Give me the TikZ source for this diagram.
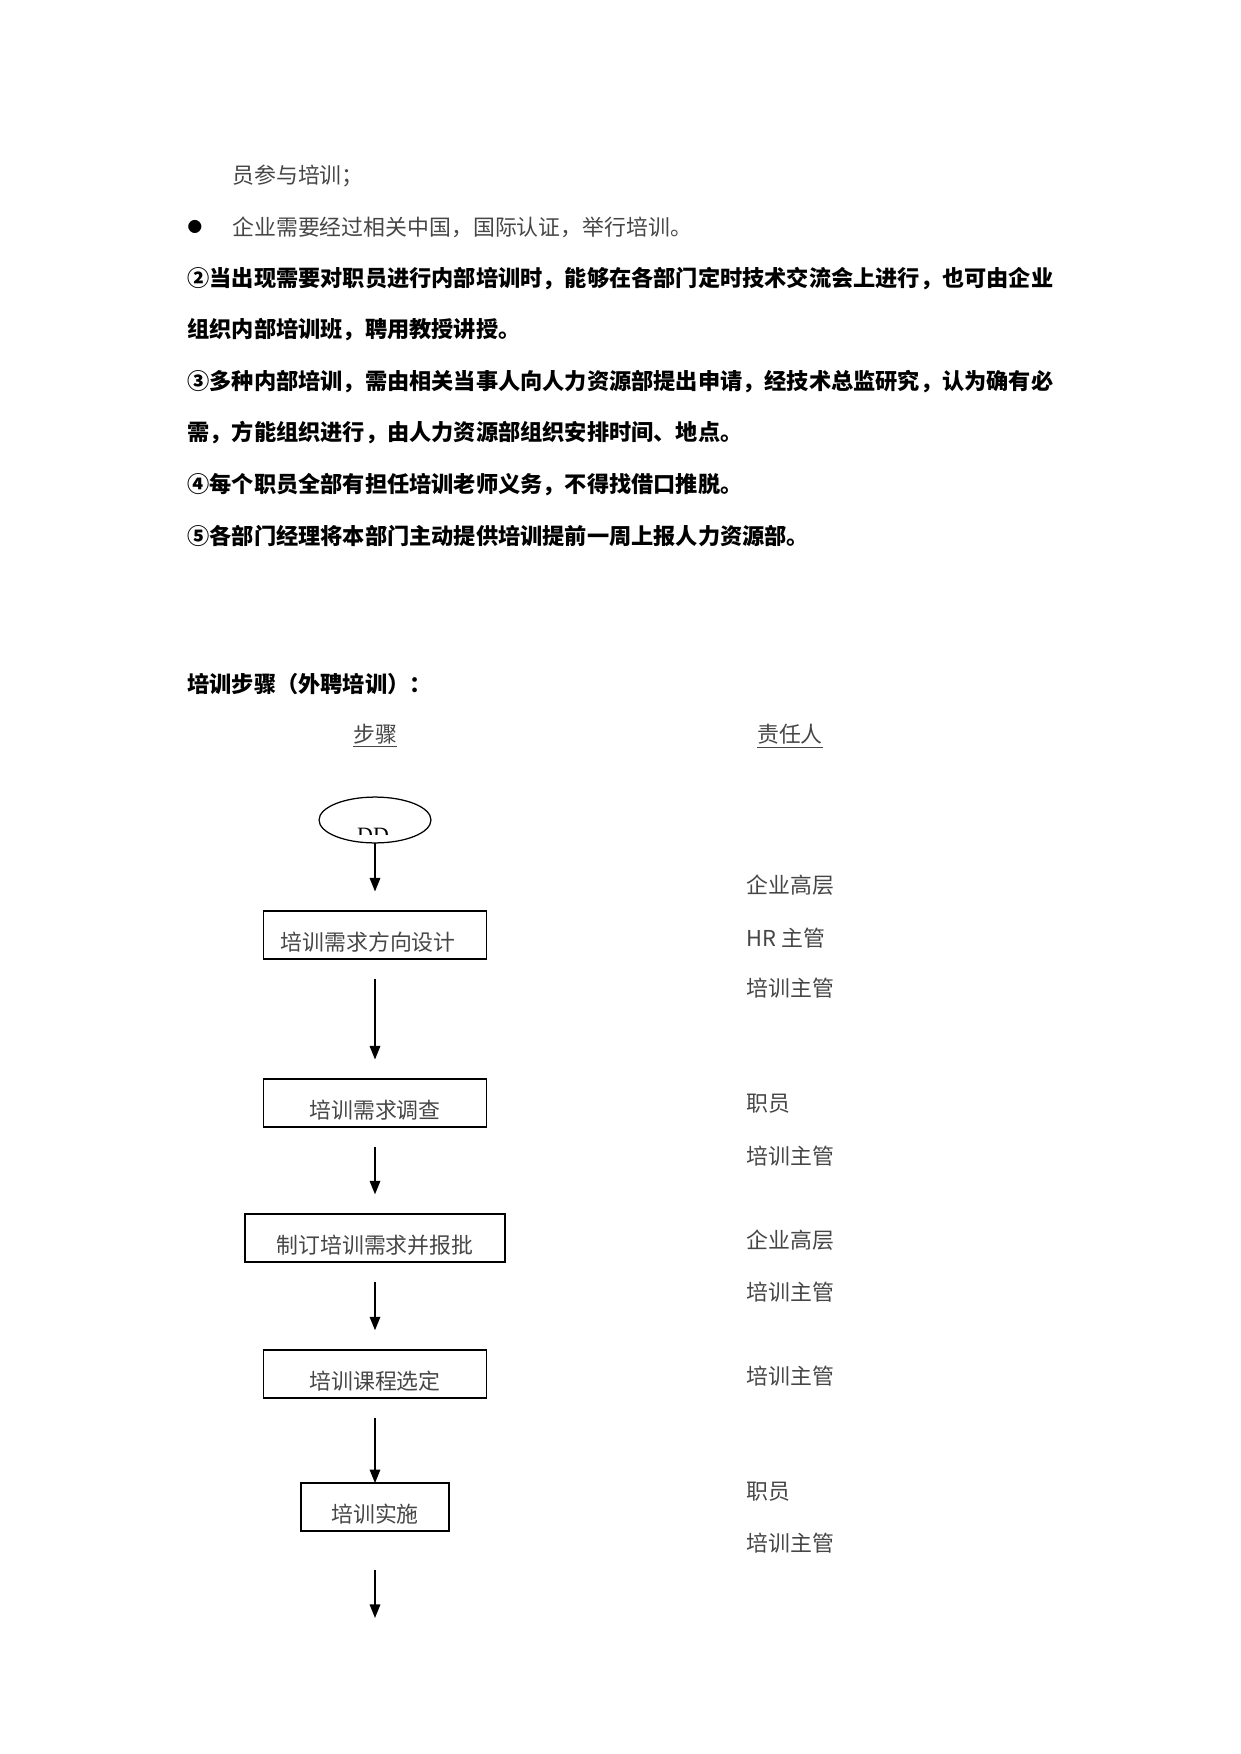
\documentclass[tikz,border=0pt]{standalone}
\usepackage{fontspec}
\setmainfont{Noto Sans CJK SC}
\newfontfamily\seriffont{Liberation Serif}
\usepackage{tikz}
\usetikzlibrary{positioning, shapes.geometric, arrows.meta}
\definecolor{textgray}{RGB}{70,70,70}

\begin{document}
\begin{tikzpicture}[x=0.4797pt, y=-0.4797pt, node distance=42pt,
    txt/.style={anchor=west, inner sep=0pt, font=\fontsize{10.5pt}{12pt}\selectfont, text=textgray},
    boldtxt/.style={anchor=west, inner sep=0pt, font=\fontsize{10.65pt}{12pt}\selectfont\bfseries},
    stepbox/.style={draw, line width=0.9pt, outer sep=0pt, minimum height=23pt, inner xsep=0pt, inner ysep=4pt,
                text height=15pt, text depth=0pt, font=\fontsize{10.5pt}{12pt}\selectfont, text=textgray},
    startbox/.style={ellipse, draw, line width=0.6pt, outer sep=0pt, minimum width=53.7pt, minimum height=22pt, inner sep=0pt},
    arr/.style={-{Triangle[width=5pt,length=6.5pt]}, line width=0.9pt, shorten <=9.5pt, shorten >=9.5pt}]
  \useasboundingbox (0,0) rectangle (1241,1754);

  % text above the chart
  \node[txt] (cont) at (232,176) {员参与培训；};
  \node[inner sep=0pt, font=\fontsize{7pt}{8pt}\selectfont] (dot) at (195,227) {●};
  \node[txt] (cert) at (232,227) {企业需要经过相关中国，国际认证，举行培训。};
  \node[boldtxt] (rule2a) at (187,279) {②当出现需要对职员进行内部培训时，能够在各部门定时技术交流会上进行，也可由企业};
  \node[boldtxt] (rule2b) at (187,330) {组织内部培训班，聘用教授讲授。};
  \node[boldtxt] (rule3a) at (187,382) {③多种内部培训，需由相关当事人向人力资源部提出申请，经技术总监研究，认为确有必};
  \node[boldtxt] (rule3b) at (187,433) {需，方能组织进行，由人力资源部组织安排时间、地点。};
  \node[boldtxt] (rule4) at (187,485) {④每个职员全部有担任培训老师义务，不得找借口推脱。};
  \node[boldtxt] (rule5) at (187,536) {⑤各部门经理将本部门主动提供培训提前一周上报人力资源部。};

  \node[boldtxt] (title) at (187,684) {培训步骤（外聘培训）：};
  \node[txt, anchor=center] (colstep) at (375,736) {\underline{步骤}};
  \node[txt, anchor=center] (colwho) at (790,736) {\underline{责任人}};

  % flow chart
  \node[startbox] (start) at (375,820) {};
  \begin{scope}
    \clip (330,815) rectangle (420,834);
    \node[anchor=base, inner sep=0pt, font=\fontsize{10.5pt}{12pt}\selectfont\seriffont] (startlabel) at (373,842) {DD};
  \end{scope}
  \node[stepbox, minimum width=107pt, text width=90.6pt, align=left, below=32.8pt of start] (need) {培训需求方向设计};
  \node[stepbox, minimum width=107pt, below=57.6pt of need] (survey) {培训需求调查};
  \node[stepbox, minimum width=124.8pt, below=41.7pt of survey] (plan) {制订培训需求并报批};
  \node[stepbox, minimum width=107pt, below=42.2pt of plan] (course) {培训课程选定};
  \node[stepbox, minimum width=70.6pt, below=40.8pt of course] (implement) {培训实施};
  \coordinate[below=41.7pt of implement] (next);

  \draw[arr, shorten <=0pt] (start) -- (need);
  \draw[arr] (need) -- (survey);
  \draw[arr] (survey) -- (plan);
  \draw[arr] (plan) -- (course);
  \draw[arr, shorten >=0pt] (course) -- (implement);
  \draw[arr, shorten <=18.7pt, shorten >=0pt] (implement) -- (next);

  % who is responsible
  \node[txt] (who1a) at (746,885) {企业高层};
  \node[txt] (who1b) at (746,938) {HR 主管};
  \node[txt] (who1c) at (746,988) {培训主管};
  \node[txt] (who2a) at (746,1104) {职员};
  \node[txt] (who2b) at (746,1156) {培训主管};
  \node[txt] (who3a) at (746,1240) {企业高层};
  \node[txt] (who3b) at (746,1292) {培训主管};
  \node[txt] (who4) at (746,1376) {培训主管};
  \node[txt] (who5a) at (746,1492) {职员};
  \node[txt] (who5b) at (746,1543) {培训主管};
\end{tikzpicture}
\end{document}
